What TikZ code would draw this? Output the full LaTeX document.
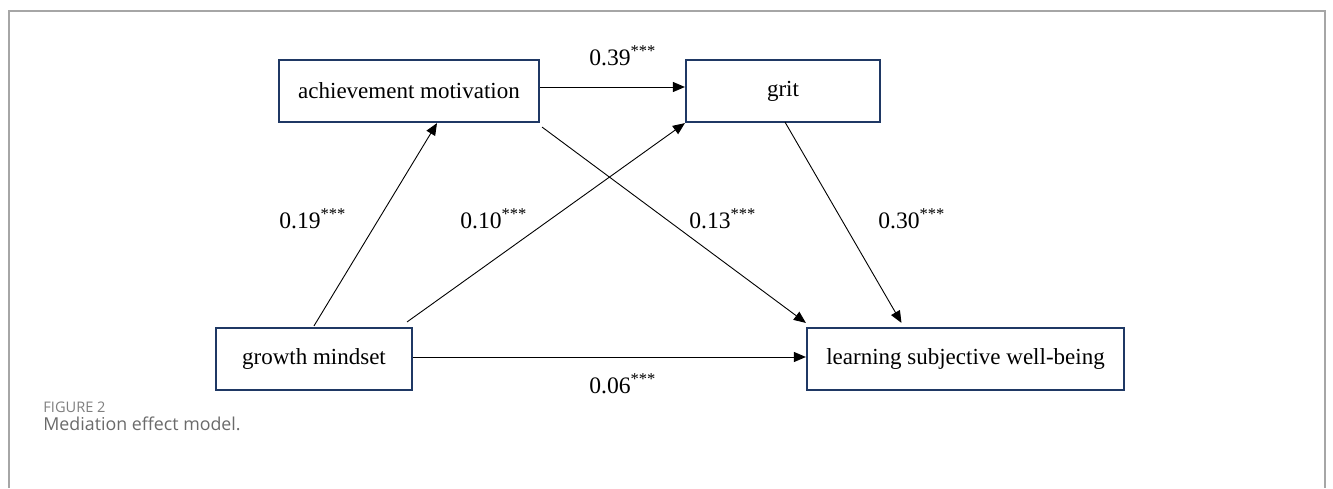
\documentclass[tikz,border=0pt]{standalone}
\usepackage{fontspec}
\setmainfont{Liberation Serif}
\newfontfamily\capfont{Open Sans}
\usetikzlibrary{arrows.meta}
\definecolor{boxblue}{HTML}{1F3864}
\definecolor{framegray}{HTML}{A6A6A6}
\definecolor{capgray}{HTML}{7F7F7F}
\definecolor{captext}{HTML}{6A6A6A}
\tikzset{
  varbox/.style={draw=boxblue, line width=1.1pt, fill=white, minimum height=31pt, inner sep=0pt, font=\fontsize{11.5}{13}\selectfont},
  effect/.style={draw=black, line width=0.45pt, -{Triangle[length=6pt,width=5pt]}},
  coef/.style={anchor=base west, inner sep=0pt, font=\fontsize{11.8}{13}\selectfont},
}
\begin{document}
\begin{tikzpicture}[x=0.5pt,y=-0.5pt]
\useasboundingbox (0,0) rectangle (1333,488);
% card frame
\draw[framegray, line width=0.6pt] (9,488) -- (9,11) -- (1325,11) -- (1325,488);
% variables
\node[varbox, minimum width=130pt] (am) at (409,91) {achievement motivation};
\node[varbox, minimum width=97pt] (grit) at (783,91) {grit};
\node[varbox, minimum width=98pt] (gm) at (314,359) {growth mindset};
\node[varbox, minimum width=158.5pt] (lsw) at (965.5,359) {learning subjective well-being};
% paths
\draw[effect] ([yshift=2pt]am.east) -- ([yshift=2pt]grit.west);
\draw[effect] ([yshift=0.5pt]gm.north) -- ([xshift=14pt]am.south);
\draw[effect] ([xshift=-3pt,yshift=2.5pt]gm.north east) -- (grit.south west);
\draw[effect] ([xshift=1pt,yshift=-2pt]am.south east) -- ([yshift=2pt]lsw.north west);
\draw[effect] ([xshift=1pt,yshift=0.5pt]grit.south) -- ([xshift=-32pt,yshift=2pt]lsw.north);
\draw[effect] ([yshift=1pt]gm.east) -- ([yshift=1pt]lsw.west);
% coefficients
\node[coef] (c39) at (589,65) {0.39\textsuperscript{***}};
\node[coef] (c19) at (279,228) {0.19\textsuperscript{***}};
\node[coef] (c10) at (460,228) {0.10\textsuperscript{***}};
\node[coef] (c13) at (689,228) {0.13\textsuperscript{***}};
\node[coef] (c30) at (878,228) {0.30\textsuperscript{***}};
\node[coef] (c06) at (589,393) {0.06\textsuperscript{***}};
% caption
\node[anchor=base west, inner sep=0pt, text=capgray, font=\capfont\fontsize{7.3}{8}\selectfont] (fig) at (43,412) {FIGURE 2};
\node[anchor=base west, inner sep=0pt, text=captext, font=\capfont\fontsize{8.9}{10}\selectfont] (cap) at (43,430) {Mediation effect model.};
\end{tikzpicture}
\end{document}
